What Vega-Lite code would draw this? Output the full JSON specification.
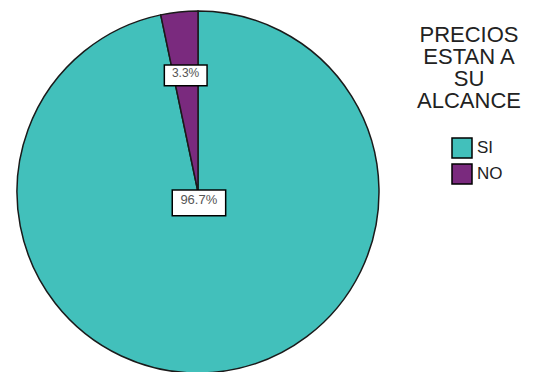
{
  "$schema": "https://vega.github.io/schema/vega-lite/v6.json",
  "width": 396,
  "height": 360,
  "autosize": "none",
  "padding": {"left": 0, "top": 12, "right": 141, "bottom": 0},
  "background": "white",
  "view": {"stroke": null},
  "data": {"values": [
    {"cat": "SI", "pct": 96.7, "label": "96.7%"},
    {"cat": "NO", "pct": 3.3, "label": "3.3%"}
  ]},
  "encoding": {
    "theta": {"field": "pct", "type": "quantitative", "stack": true},
    "order": {"field": "cat", "sort": "descending"}
  },
  "layer": [
    {
      "mark": {"type": "arc", "outerRadius": 181, "stroke": "#1a1a1a", "strokeWidth": 1.5},
      "encoding": {
        "color": {
          "field": "cat", "type": "nominal", "sort": ["SI", "NO"],
          "scale": {"domain": ["SI", "NO"], "range": ["#42c0bb", "#7a2a7e"]},
          "legend": {
            "orient": "none", "legendX": 417, "legendY": 13,
            "title": ["PRECIOS", "ESTAN A", "SU", "ALCANCE"],
            "titleFont": "Liberation Sans", "titleFontSize": 22, "titleFontWeight": "normal",
            "titleColor": "#222", "titleLineHeight": 22, "titleAlign": "center", "titleAnchor": "middle",
            "titlePadding": 24,
            "labelFont": "Liberation Sans", "labelFontSize": 17, "labelColor": "#222",
            "symbolType": "square", "symbolSize": 400, "symbolStrokeColor": "black",
            "symbolStrokeWidth": 1.5, "symbolOffset": 15, "rowPadding": 0, "labelOffset": 4,
            "symbolOpacity": 1
          }
        }
      }
    },
    {
      "mark": {"type": "text", "text": "▬", "font": "DejaVu Sans", "fill": "white", "stroke": "black", "strokeWidth": 1.5},
      "encoding": {
        "detail": {"field": "cat"},
        "size": {"condition": {"test": "datum.cat === 'SI'", "value": 70}, "value": 56},
        "radius": {"value": {"expr": "datum.cat === 'NO' ? 120 : 8"}}
      }
    },
    {
      "mark": {"type": "text", "font": "Liberation Sans", "fill": "#555"},
      "encoding": {
        "text": {"field": "label"},
        "detail": {"field": "cat"},
        "size": {"condition": {"test": "datum.cat === 'SI'", "value": 13}, "value": 12},
        "radius": {"value": {"expr": "datum.cat === 'NO' ? 120 : 8"}}
      }
    }
  ]
}
